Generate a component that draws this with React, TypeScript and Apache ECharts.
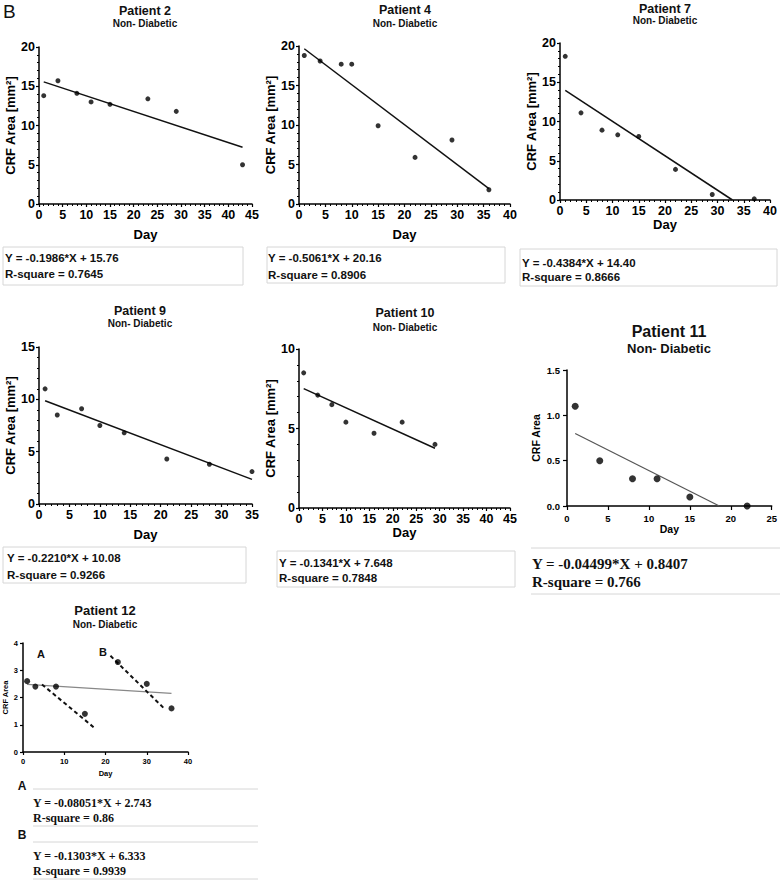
import React, { useEffect, useRef } from "react";
import * as echarts from "echarts";

const SANS = "'Liberation Sans', Arial, Helvetica, sans-serif";
const SERIF = "'Liberation Serif', 'Times New Roman', serif";

// ---------- data ----------
const p2Days = [1, 4, 8, 11, 15, 23, 29, 43];
const p2Area = [13.8, 15.7, 14.1, 13.0, 12.7, 13.4, 11.8, 5.0];
const p2FitDays = [1, 43];
const p2FitArea = [15.56, 7.22];

const p4Days = [1, 4, 8, 10, 15, 22, 29, 36];
const p4Area = [18.8, 18.1, 17.7, 17.7, 9.9, 5.9, 8.1, 1.8];
const p4FitDays = [1, 36];
const p4FitArea = [19.65, 1.94];

const p7Days = [1, 4, 8, 11, 15, 22, 29, 37];
const p7Area = [18.3, 11.1, 8.9, 8.3, 8.1, 3.9, 0.7, 0.15];
const p7FitDays = [1, 32.85];
const p7FitArea = [13.96, 0];

const p9Days = [1, 3, 7, 10, 14, 21, 28, 35];
const p9Area = [11.0, 8.5, 9.1, 7.5, 6.8, 4.3, 3.8, 3.1];
const p9FitDays = [1, 35];
const p9FitArea = [9.86, 2.35];

const p10Days = [1, 4, 7, 10, 16, 22, 29];
const p10Area = [8.5, 7.1, 6.5, 5.4, 4.7, 5.4, 4.0];
const p10FitDays = [1, 29];
const p10FitArea = [7.51, 3.76];

const p11Days = [1, 4, 8, 11, 15, 22];
const p11Area = [1.1, 0.5, 0.3, 0.3, 0.1, 0.0];
const p11FitDays = [1, 18.6];
const p11FitArea = [0.8, 0];

const p12Days = [1, 3, 8, 15, 23, 30, 36];
const p12Area = [2.6, 2.4, 2.4, 1.4, 3.3, 2.5, 1.6];
const p12AllFitDays = [1, 36];
const p12AllFitArea = [2.48, 2.15];
const p12AFitDays = [4.6, 17.6];
const p12AFitArea = [2.48, 0.85];
const p12BFitDays = [21.2, 34.2];
const p12BFitArea = [3.53, 1.6];

// axis ranges: [max, interval]
const p2X = [45, 5], p2Y = [20, 5];
const p4X = [40, 5], p4Y = [20, 5];
const p7X = [40, 5], p7Y = [20, 5];
const p9X = [35, 5], p9Y = [15, 5];
const p10X = [45, 5], p10Y = [10, 5];
const p11X = [25, 5], p11Y = [1.5, 0.5];
const p12X = [40, 10], p12Y = [4, 1];

const titles = ["Patient 2", "Patient 4", "Patient 7", "Patient 9", "Patient 10", "Patient 11", "Patient 12"];
const subtitle = "Non- Diabetic";
const equations = [
  "Y = -0.1986*X + 15.76",
  "Y = -0.5061*X + 20.16",
  "Y = -0.4384*X + 14.40",
  "Y = -0.2210*X + 10.08",
  "Y = -0.1341*X + 7.648",
  "Y = -0.04499*X + 0.8407",
  "Y = -0.08051*X + 2.743",
  "Y = -0.1303*X + 6.333",
];
const rsquares = [
  "R-square = 0.7645",
  "R-square = 0.8906",
  "R-square = 0.8666",
  "R-square = 0.9266",
  "R-square = 0.7848",
  "R-square = 0.766",
  "R-square = 0.86",
  "R-square = 0.9939",
];

const pairs = (xs: number[], ys: number[]) => xs.map((x, i) => [x, ys[i]]);

type Spec = {
  grid: { left: number; top: number; width: number; height: number };
  xr: number[];
  yr: number[];
  yName: string;
  yGap: number;
  xGap: number;
  labelSize: number;
  nameSize: number;
  tickLen: number;
  labelMargin: number;
  minor: boolean;
  symbolSize: number;
  decimals: number;
  points: number[][];
  fits: { data: number[][]; color: string; width: number; type: string }[];
};

const specs: Spec[] = [
  {
    grid: { left: 39, top: 47, width: 213, height: 157 }, xr: p2X, yr: p2Y,
    yName: "CRF Area [mm²]", yGap: 21, xGap: 24, labelSize: 12.5, nameSize: 13, tickLen: 3, labelMargin: 4,
    minor: true, symbolSize: 5, decimals: 0, points: pairs(p2Days, p2Area),
    fits: [{ data: pairs(p2FitDays, p2FitArea), color: "#111", width: 1.5, type: "solid" }],
  },
  {
    grid: { left: 299, top: 46, width: 211, height: 158 }, xr: p4X, yr: p4Y,
    yName: "CRF Area [mm²]", yGap: 20, xGap: 24, labelSize: 12.5, nameSize: 13, tickLen: 3, labelMargin: 4,
    minor: true, symbolSize: 5, decimals: 0, points: pairs(p4Days, p4Area),
    fits: [{ data: pairs(p4FitDays, p4FitArea), color: "#111", width: 1.5, type: "solid" }],
  },
  {
    grid: { left: 560, top: 43, width: 210, height: 157 }, xr: p7X, yr: p7Y,
    yName: "CRF Area [mm²]", yGap: 21, xGap: 15, labelSize: 12.5, nameSize: 13, tickLen: 3, labelMargin: 4,
    minor: true, symbolSize: 5, decimals: 0, points: pairs(p7Days, p7Area),
    fits: [{ data: pairs(p7FitDays, p7FitArea), color: "#111", width: 1.5, type: "solid" }],
  },
  {
    grid: { left: 39, top: 347, width: 213, height: 157 }, xr: p9X, yr: p9Y,
    yName: "CRF Area [mm²]", yGap: 22, xGap: 24, labelSize: 12.5, nameSize: 13, tickLen: 3, labelMargin: 4,
    minor: true, symbolSize: 5, decimals: 0, points: pairs(p9Days, p9Area),
    fits: [{ data: pairs(p9FitDays, p9FitArea), color: "#111", width: 1.5, type: "solid" }],
  },
  {
    grid: { left: 299, top: 349, width: 211, height: 159 }, xr: p10X, yr: p10Y,
    yName: "CRF Area [mm²]", yGap: 20, xGap: 16, labelSize: 12.5, nameSize: 13, tickLen: 3, labelMargin: 4,
    minor: true, symbolSize: 5, decimals: 0, points: pairs(p10Days, p10Area),
    fits: [{ data: pairs(p10FitDays, p10FitArea), color: "#111", width: 1.5, type: "solid" }],
  },
  {
    grid: { left: 567, top: 370, width: 206, height: 136 }, xr: p11X, yr: p11Y,
    yName: "CRF Area", yGap: 26, xGap: 15, labelSize: 9.5, nameSize: 10.5, tickLen: 4, labelMargin: 7,
    minor: false, symbolSize: 7, decimals: 1, points: pairs(p11Days, p11Area),
    fits: [{ data: pairs(p11FitDays, p11FitArea), color: "#555", width: 1.2, type: "solid" }],
  },
  {
    grid: { left: 23, top: 643, width: 165, height: 109 }, xr: p12X, yr: p12Y,
    yName: "CRF Area", yGap: 11, xGap: 17, labelSize: 7.5, nameSize: 7.5, tickLen: 3, labelMargin: 5,
    minor: false, symbolSize: 6, decimals: 0, points: pairs(p12Days, p12Area),
    fits: [
      { data: pairs(p12AllFitDays, p12AllFitArea), color: "#888", width: 1.3, type: "solid" },
      { data: pairs(p12AFitDays, p12AFitArea), color: "#111", width: 2, type: "dashed" },
      { data: pairs(p12BFitDays, p12BFitArea), color: "#111", width: 2, type: "dashed" },
    ],
  },
];

// title layout
const titleLayout = [
  { x: 145, y: 11, ty: 23, ts: 12.5, ss: 10 },
  { x: 405, y: 10, ty: 23, ts: 12.5, ss: 10 },
  { x: 665, y: 9, ty: 20, ts: 12.5, ss: 10 },
  { x: 140, y: 311, ty: 323, ts: 12.5, ss: 10 },
  { x: 405, y: 313, ty: 327, ts: 12.5, ss: 10 },
  { x: 669, y: 331, ty: 348, ts: 16, ss: 13 },
  { x: 105, y: 610, ty: 624, ts: 13, ss: 10 },
];

const boxes = [
  { x: 3, y: 247, w: 240, h: 38, tx: 5, l1: 258, l2: 274 },
  { x: 267, y: 247, w: 238, h: 36, tx: 268, l1: 258, l2: 275 },
  { x: 520, y: 249, w: 257, h: 37, tx: 522, l1: 263, l2: 277 },
  { x: 3, y: 547, w: 243, h: 36, tx: 7, l1: 558, l2: 575 },
  { x: 277, y: 551, w: 238, h: 36, tx: 279, l1: 563, l2: 578 },
];

function txt(text: string, x: number, y: number, size: number, opts: any = {}) {
  const align = opts.align || "left";
  return {
    type: "text",
    silent: true,
    style: {
      text,
      x,
      y,
      fill: opts.color || "#111",
      font: `${opts.weight || "bold"} ${size}px ${opts.family || SANS}`,
      textAlign: align,
      align,
      textVerticalAlign: "middle",
      verticalAlign: "middle",
    },
  };
}

function hline(x1: number, x2: number, y: number) {
  return { type: "line", silent: true, shape: { x1, y1: y, x2, y2: y }, style: { stroke: "#d6d6d6", lineWidth: 1 } };
}

function buildOption() {
  const grid: any[] = [];
  const xAxis: any[] = [];
  const yAxis: any[] = [];
  const series: any[] = [];
  specs.forEach((s, i) => {
    grid.push({ ...s.grid, containLabel: false });
    const common = (max: number, interval: number, isY: boolean) => ({
      gridIndex: i,
      type: "value",
      min: 0,
      max,
      interval,
      axisLine: { show: true, onZero: false, lineStyle: { color: "#000", width: 1.5 } },
      axisTick: { show: true, length: s.tickLen, lineStyle: { color: "#000", width: 1.2 } },
      minorTick: { show: s.minor, splitNumber: 5, length: 2, lineStyle: { color: "#000", width: 1 } },
      splitLine: { show: false },
      minorSplitLine: { show: false },
      axisLabel: {
        color: "#000",
        fontFamily: SANS,
        fontWeight: "bold",
        fontSize: s.labelSize,
        margin: s.labelMargin,
        formatter: (v: number) => (isY && s.decimals ? v.toFixed(s.decimals) : String(v)),
      },
      nameLocation: "middle",
      nameTextStyle: { color: "#000", fontFamily: SANS, fontWeight: "bold", fontSize: s.nameSize },
    });
    xAxis.push({ ...common(s.xr[0], s.xr[1], false), name: "Day", nameGap: s.xGap });
    yAxis.push({ ...common(s.yr[0], s.yr[1], true), name: s.yName, nameGap: s.yGap, nameRotate: 90 });
    s.fits.forEach((f) => {
      series.push({
        type: "line",
        xAxisIndex: i,
        yAxisIndex: i,
        data: f.data,
        showSymbol: false,
        symbol: "none",
        silent: true,
        z: 2,
        lineStyle: { color: f.color, width: f.width, type: f.type === "dashed" ? [4, 3] : "solid" },
      });
    });
    series.push({
      type: "scatter",
      xAxisIndex: i,
      yAxisIndex: i,
      data: s.points,
      symbol: "circle",
      symbolSize: s.symbolSize,
      itemStyle: { color: "#000" },
      z: 3,
      silent: true,
    });
  });

  const graphic: any[] = [];
  graphic.push(txt("B", 3, 11, 19, { weight: "normal" }));
  titles.forEach((t, i) => {
    const L = titleLayout[i];
    graphic.push(txt(t, L.x, L.y, L.ts, { align: "center" }));
    graphic.push(txt(subtitle, L.x, L.ty, L.ss, { align: "center" }));
  });
  boxes.forEach((b, i) => {
    graphic.push({
      type: "rect",
      silent: true,
      shape: { x: b.x, y: b.y, width: b.w, height: b.h },
      style: { fill: "none", stroke: "#d6d6d6", lineWidth: 1 },
    });
    graphic.push(txt(equations[i], b.tx, b.l1, 11.5));
    graphic.push(txt(rsquares[i], b.tx, b.l2, 11.5));
  });
  // Patient 11 (serif, lines only)
  graphic.push(hline(531, 780, 548));
  graphic.push(hline(531, 780, 594));
  graphic.push(txt(equations[5], 532, 564, 15, { family: SERIF }));
  graphic.push(txt(rsquares[5], 532, 582, 15, { family: SERIF }));
  // Patient 12 in-plot labels
  graphic.push(txt("A", 37, 654, 11));
  graphic.push(txt("B", 99, 652, 11));
  // Patient 12 boxes
  graphic.push(txt("A", 22, 786, 12, { align: "center" }));
  graphic.push(hline(33, 258, 789));
  graphic.push(hline(33, 258, 826));
  graphic.push(txt(equations[6], 33, 803, 12, { family: SERIF }));
  graphic.push(txt(rsquares[6], 33, 818, 12, { family: SERIF }));
  graphic.push(txt("B", 22, 835, 12, { align: "center" }));
  graphic.push(hline(33, 258, 842));
  graphic.push(hline(33, 258, 879));
  graphic.push(txt(equations[7], 33, 856, 12, { family: SERIF }));
  graphic.push(txt(rsquares[7], 33, 871, 12, { family: SERIF }));

  return {
    animation: false,
    backgroundColor: "#fff",
    grid,
    xAxis,
    yAxis,
    series,
    graphic,
  };
}

export default function App() {
  const ref = useRef<HTMLDivElement>(null);
  useEffect(() => {
    if (!ref.current) return;
    const chart = echarts.init(ref.current, undefined, { renderer: "svg" });
    chart.setOption(buildOption() as any);
    return () => chart.dispose();
  }, []);
  return (
    <div
      ref={ref}
      style={{ position: "absolute", left: 0, top: 0, width: 780, height: 881, background: "#fff" }}
    />
  );
}
